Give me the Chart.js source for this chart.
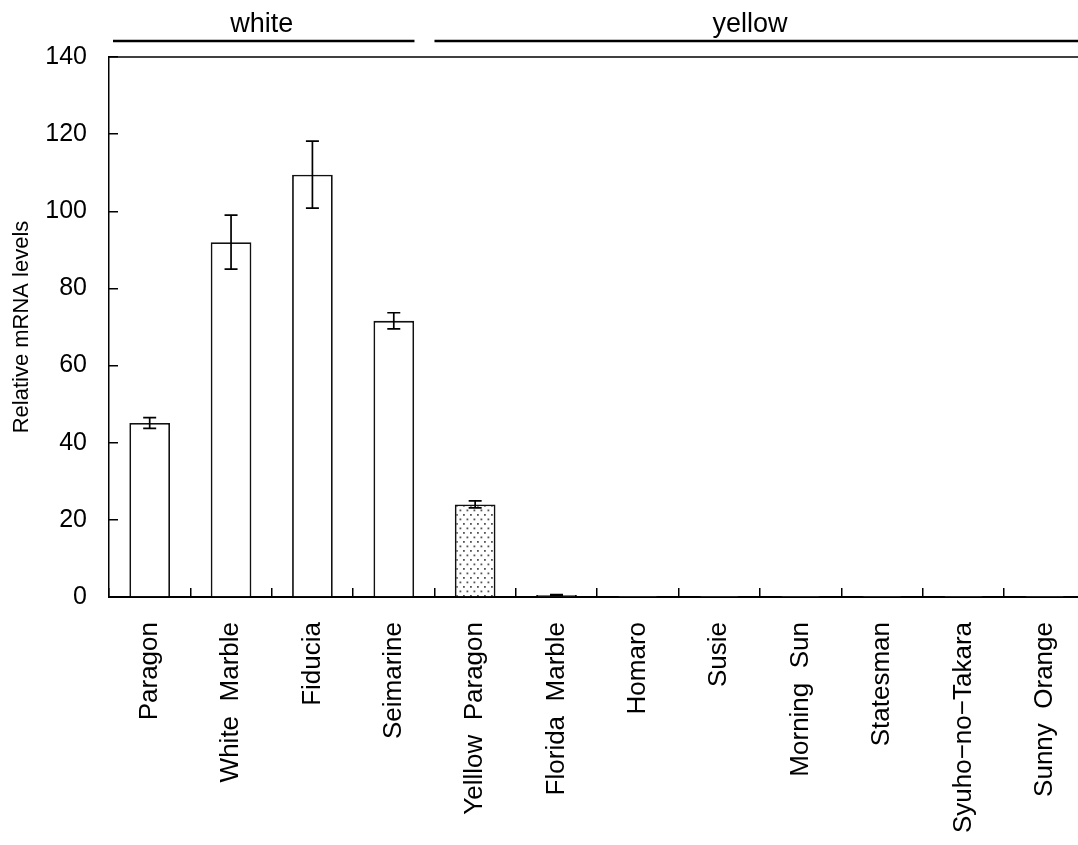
<!DOCTYPE html>
<html>
<head>
<meta charset="utf-8">
<title>Relative mRNA levels</title>
<script src="https://cdn.jsdelivr.net/npm/chart.js@4.4.1/dist/chart.umd.min.js"></script>
<style>
  html, body { margin: 0; padding: 0; background: #fff; overflow: hidden; }
  #wrap { width: 1110px; height: 845px; }
</style>
</head>
<body>
<div id="wrap"><canvas id="chartLevels" width="1110" height="845"></canvas></div>
<script>
const cultivars = ['Paragon', 'White  Marble', 'Fiducia', 'Seimarine', 'Yelllow  Paragon', 'Florida  Marble',
  'Homaro', 'Susie', 'Morning  Sun', 'Statesman', 'Syuho\u2212no\u2212Takara', 'Sunny  Orange'];
const levels = [45.1, 92.0, 109.5, 71.6, 24.0, 0.5, 0.05, 0.05, 0.05, 0.05, 0.05, 0.05];
const errors = [1.4, 7.0, 8.7, 2.1, 0.9, 0.1, 0, 0, 0, 0, 0, 0];
const dottedBars = [4];

const groupNames = ['white', 'yellow'];
const groupFirst = [0, 4];
const groupLast = [3, 11];

const yMin = 0;
const yMax = 140;
const yStep = 20;

const FONT = '"Liberation Sans", Arial, Helvetica, sans-serif';

function dotPattern() {
  const c = document.createElement('canvas');
  c.width = 7;
  c.height = 9;
  const g = c.getContext('2d');
  g.fillStyle = '#fff';
  g.fillRect(0, 0, 7, 9);
  g.fillStyle = '#555';
  g.fillRect(1, 1, 1.8, 1.8);
  g.fillRect(4.5, 5.5, 1.8, 1.8);
  return g.createPattern(c, 'repeat');
}

// error bars drawn through the value scale
const errorBars = {
  id: 'errorBars',
  afterDatasetsDraw(chart) {
    const { ctx, scales: { y } } = chart;
    const meta = chart.getDatasetMeta(0);
    ctx.save();
    ctx.strokeStyle = '#000';
    ctx.lineWidth = 1.7;
    meta.data.forEach((bar, i) => {
      const e = errors[i];
      if (!e) return;
      const top = y.getPixelForValue(levels[i] + e);
      const bot = y.getPixelForValue(levels[i] - e);
      const cap = 6.5;
      ctx.beginPath();
      ctx.moveTo(bar.x, top); ctx.lineTo(bar.x, bot);
      ctx.moveTo(bar.x - cap, top); ctx.lineTo(bar.x + cap, top);
      ctx.moveTo(bar.x - cap, bot); ctx.lineTo(bar.x + cap, bot);
      ctx.stroke();
    });
    ctx.restore();
  }
};

// top frame line and the white / yellow group headers
const frameAndGroups = {
  id: 'frameAndGroups',
  afterDraw(chart) {
    const { ctx, chartArea, scales: { x } } = chart;
    const half = (x.getPixelForValue(1) - x.getPixelForValue(0)) / 2;
    ctx.save();
    ctx.strokeStyle = '#000';
    ctx.lineWidth = 1.5;
    ctx.beginPath();
    ctx.moveTo(chartArea.left, chartArea.top);
    ctx.lineTo(chartArea.right, chartArea.top);
    ctx.stroke();

    ctx.lineWidth = 2.6;
    ctx.fillStyle = '#000';
    ctx.font = '27px ' + FONT;
    ctx.textAlign = 'center';
    ctx.textBaseline = 'alphabetic';
    groupNames.forEach((name, g) => {
      const x0 = x.getPixelForValue(groupFirst[g]) - half + (g === 0 ? 4 : 0);
      const x1 = x.getPixelForValue(groupLast[g]) + half - (g === 0 ? 20 : 0);
      ctx.beginPath();
      ctx.moveTo(x0, 41);
      ctx.lineTo(x1, 41);
      ctx.stroke();
      const mid = g === 0 ? (x0 + x1) / 2 - 2 : (x0 + x1) / 2 - 10;
      ctx.fillText(name, mid, 32);
    });
    ctx.restore();
  }
};

function init() {
  const ctx = document.getElementById('chartLevels').getContext('2d');
  const fills = levels.map((v, i) => dottedBars.includes(i) ? dotPattern() : '#fff');

  new Chart(ctx, {
    type: 'bar',
    data: {
      labels: cultivars,
      datasets: [{
        label: 'Relative mRNA levels',
        data: levels,
        backgroundColor: fills,
        borderColor: '#111',
        borderWidth: 1.8,
        barPercentage: 0.5,
        categoryPercentage: 1.0
      }]
    },
    options: {
      responsive: false,
      animation: false,
      layout: { padding: { left: 0, top: 57, right: 2, bottom: 0 } },
      plugins: { legend: { display: false }, tooltip: { enabled: false } },
      scales: {
        x: {
          grid: { display: true, offset: true, drawOnChartArea: false, drawTicks: true, tickLength: -9, color: '#000', lineWidth: 1.5 },
          border: { display: true, color: '#000', width: 2 },
          ticks: {
            color: '#000', font: { family: FONT, size: 26 }, padding: 34,
            minRotation: 90, maxRotation: 90, autoSkip: false
          },
          afterFit: (scale) => { scale.height = 248; }
        },
        y: {
          min: yMin,
          max: yMax,
          grid: { display: true, drawOnChartArea: false, drawTicks: true, tickLength: -9, color: '#000', lineWidth: 1.5 },
          border: { display: true, color: '#000', width: 1.5 },
          ticks: { stepSize: yStep, color: '#000', font: { family: FONT, size: 25 }, padding: 31 },
          title: { display: true, text: 'Relative mRNA levels', color: '#000', font: { family: FONT, size: 22 }, padding: { top: 9, bottom: 0 } },
          afterFit: (scale) => { scale.width = 109; }
        }
      }
    },
    plugins: [errorBars, frameAndGroups]
  });
}

document.addEventListener('DOMContentLoaded', init);
</script>
</body>
</html>
